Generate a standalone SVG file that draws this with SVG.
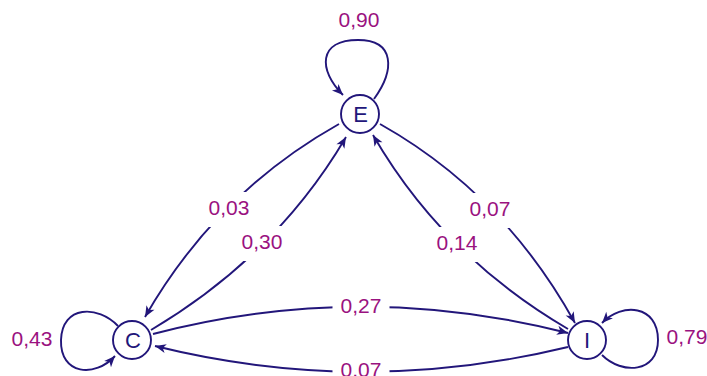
<svg xmlns="http://www.w3.org/2000/svg" width="707" height="376" viewBox="0 0 707 376">
<style>
.edge{fill:none;stroke:#22167a;stroke-width:1.9;marker-end:url(#arr)}
.node circle{fill:#fff;stroke:#22167a;stroke-width:1.9}
.node text{font-family:"Liberation Sans",Arial,sans-serif;font-size:22px;fill:#22167a;text-anchor:middle}
.lbl rect{fill:#fff}
.lbl text{font-family:"Liberation Sans",Arial,sans-serif;font-size:21px;fill:#9a1280;text-anchor:middle}
</style>
<defs>
<marker id="arr" markerUnits="userSpaceOnUse" viewBox="-12 -6 13 12" markerWidth="13" markerHeight="12" refX="0" refY="0" orient="auto">
<path d="M0,0 L-11,-4.6 L-8,0 L-11,4.6 Z" fill="#22167a"/>
</marker>
</defs>
<g id="connectors">
<path class="edge" d="M339,124 Q216,193 145,317"/>
<path class="edge" d="M151,330 Q276,256 346,137"/>
<path class="edge" d="M380,124 Q503,193 575,323"/>
<path class="edge" d="M568,329 Q443,256 373,135"/>
<path class="edge" d="M153,334 Q360,280 568,333"/>
<path class="edge" d="M568,347 Q361,397 155,346"/>
<path class="edge" d="M374,99 C395,70 395,40 358,40 C318,40 318,70 343,95"/>
<path class="edge" d="M118,326 C98,305 62,305 61,340 C60,375 95,378 115,356"/>
<path class="edge" d="M602,355 C622,375 658,373 658,340 C658,305 622,302 602,323"/>
</g>
<g id="labels">
<g class="lbl"><rect x="200.5" y="192" width="57" height="35"/><text x="229" y="215">0,03</text></g>
<g class="lbl"><rect x="233.5" y="226" width="57" height="35"/><text x="262" y="249">0,30</text></g>
<g class="lbl"><rect x="461.5" y="193" width="57" height="35"/><text x="490" y="216">0,07</text></g>
<g class="lbl"><rect x="428.5" y="227" width="57" height="35"/><text x="457" y="250">0,14</text></g>
<g class="lbl"><rect x="332.5" y="290" width="57" height="35"/><text x="361" y="313">0,27</text></g>
<g class="lbl"><rect x="332.5" y="354" width="57" height="35"/><text x="361" y="377">0,07</text></g>
<g class="lbl"><text x="359" y="27">0,90</text></g>
<g class="lbl"><text x="32" y="346">0,43</text></g>
<g class="lbl"><text x="687" y="344">0,79</text></g>
</g>
<g id="node-E" class="node"><circle cx="360" cy="114" r="19"/><text x="360.5" y="121.5">E</text></g>
<g id="node-C" class="node"><circle cx="132" cy="340" r="19"/><text x="133" y="347.5">C</text></g>
<g id="node-I" class="node"><circle cx="587" cy="340" r="19"/><text x="587" y="347.5">I</text></g>
</svg>
